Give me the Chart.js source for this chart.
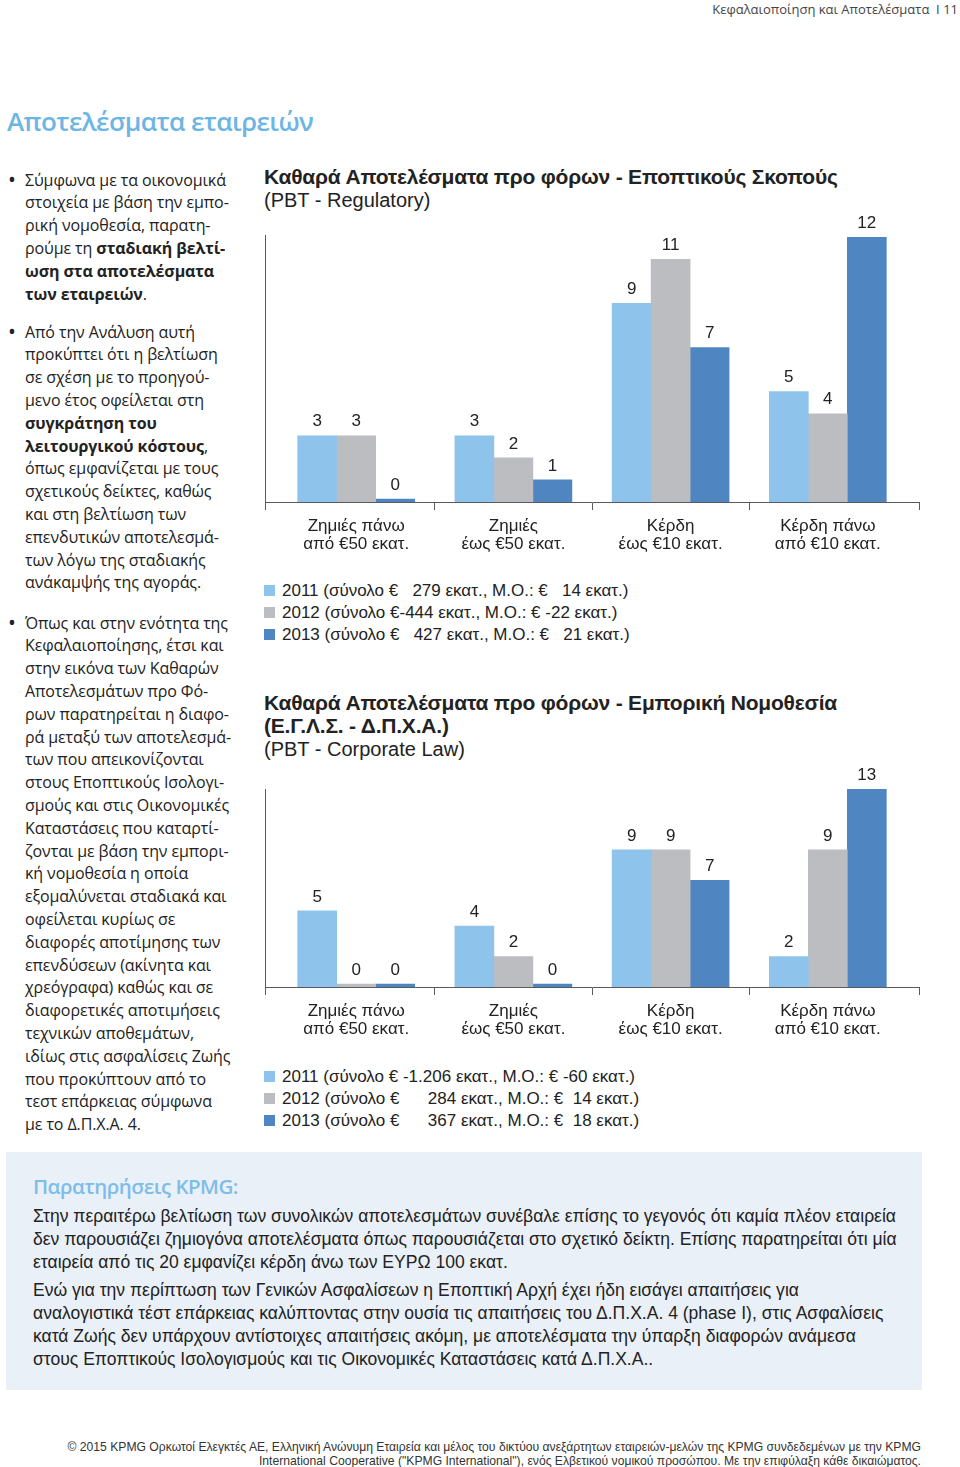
<!DOCTYPE html>
<html lang="el">
<head>
<meta charset="utf-8">
<script src="https://cdn.jsdelivr.net/npm/chart.js@4.4.1/dist/chart.umd.min.js"></script>
<style>
  html, body { margin:0; padding:0; background:#fff; }
  body { width:960px; height:1467px; position:relative; overflow:hidden; color:#222; }
  .abs { position:absolute; white-space:nowrap; }
  .hdr { top:1px; right:2px; font:13px/16px "Open Sans", sans-serif; color:#444; }
  .maintitle { top:104px; left:7px; font:600 26px/34px "Open Sans", sans-serif; color:#6cb5e4; letter-spacing:-0.6px; }
  .col { left:0; width:250px; font:16px/22.8px "Open Sans", sans-serif; color:#222; letter-spacing:-0.1px; }
  .col p { position:absolute; left:25px; margin:0; }
  .col p::before { content:"\2022"; position:absolute; left:-17px; top:-1px; font-size:21px; }
  .ctitle { left:264px; font:bold 21px/23px "Liberation Sans", Arial, sans-serif; color:#222; letter-spacing:-0.2px; }
  .ctitle span { font-weight:normal; font-size:20px; letter-spacing:0; }
  .legend { left:264px; font:17px/22px "Liberation Sans", Arial, sans-serif; color:#222; }
  .legend div { white-space:pre; position:relative; padding-left:18px; }
  .legend i { position:absolute; left:0; top:5px; width:11px; height:11px; }
  canvas { position:absolute; left:250px; }
  .box { left:6px; top:1152px; width:916px; height:238px; background:#eaf0f8; }
  .box h3 { position:absolute; left:27px; top:22px; margin:0; font:600 20.5px/24px "Open Sans", sans-serif; color:#7dbde8; letter-spacing:-0.5px; }
  .box p { position:absolute; left:27px; margin:0; font:17.55px/23px "Liberation Sans", Arial, sans-serif; color:#222; white-space:nowrap; }
  .foot { top:1440px; right:39px; text-align:right; font:12.15px/14px "Liberation Sans", Arial, sans-serif; color:#333; }
</style>
</head>
<body>
<div class="abs hdr">Κεφαλαιοποίηση και Αποτελέσματα&nbsp; I 11</div>
<div class="abs maintitle">Αποτελέσματα εταιρειών</div>

<div class="abs col" style="top:0">
  <p style="top:168.6px">Σύμφωνα με τα οικονομικά<br>στοιχεία με βάση την εμπο-<br>ρική νομοθεσία, παρατη-<br>ρούμε τη <b>σταδιακή βελτί-</b><br><b>ωση στα αποτελέσματα</b><br><b>των εταιρειών</b>.</p>
  <p style="top:320.6px">Από την Ανάλυση αυτή<br>προκύπτει ότι η βελτίωση<br>σε σχέση με το προηγού-<br>μενο έτος οφείλεται στη<br><b>συγκράτηση του</b><br><b>λειτουργικού κόστους</b>,<br>όπως εμφανίζεται με τους<br>σχετικούς δείκτες, καθώς<br>και στη βελτίωση των<br>επενδυτικών αποτελεσμά-<br>των λόγω της σταδιακής<br>ανάκαμψής της αγοράς.</p>
  <p style="top:611.6px">Όπως και στην ενότητα της<br>Κεφαλαιοποίησης, έτσι και<br>στην εικόνα των Καθαρών<br>Αποτελεσμάτων προ Φό-<br>ρων παρατηρείται η διαφο-<br>ρά μεταξύ των αποτελεσμά-<br>των που απεικονίζονται<br>στους Εποπτικούς Ισολογι-<br>σμούς και στις Οικονομικές<br>Καταστάσεις που καταρτί-<br>ζονται με βάση την εμπορι-<br>κή νομοθεσία η οποία<br>εξομαλύνεται σταδιακά και<br>οφείλεται κυρίως σε<br>διαφορές αποτίμησης των<br>επενδύσεων (ακίνητα και<br>χρεόγραφα) καθώς και σε<br>διαφορετικές αποτιμήσεις<br>τεχνικών αποθεμάτων,<br>ιδίως στις ασφαλίσεις Ζωής<br>που προκύπτουν από το<br>τεστ επάρκειας σύμφωνα<br>με το Δ.Π.Χ.Α. 4.</p>
</div>

<div class="abs ctitle" style="top:164.5px">Καθαρά Αποτελέσματα προ φόρων - Εποπτικούς Σκοπούς<br><span>(PBT - Regulatory)</span></div>
<canvas id="c1" width="690" height="362" style="top:200px"></canvas>
<div class="abs legend" id="lg1" style="top:580px"></div>

<div class="abs ctitle" style="top:690.5px">Καθαρά Αποτελέσματα προ φόρων - Εμπορική Νομοθεσία<br>(Ε.Γ.Λ.Σ. - Δ.Π.Χ.Α.)<br><span>(PBT - Corporate Law)</span></div>
<canvas id="c2" width="690" height="307" style="top:740px"></canvas>
<div class="abs legend" id="lg2" style="top:1066px"></div>

<div class="abs box">
  <h3>Παρατηρήσεις KPMG:</h3>
  <p style="top:52.5px">Στην περαιτέρω βελτίωση των συνολικών αποτελεσμάτων συνέβαλε επίσης το γεγονός ότι καμία πλέον εταιρεία<br>δεν παρουσιάζει ζημιογόνα αποτελέσματα όπως παρουσιάζεται στο σχετικό δείκτη. Επίσης παρατηρείται ότι μία<br>εταιρεία από τις 20 εμφανίζει κέρδη άνω των ΕΥΡΩ 100 εκατ.</p>
  <p style="top:126.5px">Ενώ για την περίπτωση των Γενικών Ασφαλίσεων η Εποπτική Αρχή έχει ήδη εισάγει απαιτήσεις για<br>αναλογιστικά τέστ επάρκειας καλύπτοντας στην ουσία τις απαιτήσεις του Δ.Π.Χ.Α. 4 (phase I), στις Ασφαλίσεις<br>κατά Ζωής δεν υπάρχουν αντίστοιχες απαιτήσεις ακόμη, με αποτελέσματα την ύπαρξη διαφορών ανάμεσα<br>στους Εποπτικούς Ισολογισμούς και τις Οικονομικές Καταστάσεις κατά Δ.Π.Χ.Α..</p>
</div>

<div class="abs foot">© 2015 KPMG Ορκωτοί Ελεγκτές ΑΕ, Ελληνική Ανώνυμη Εταιρεία και μέλος του δικτύου ανεξάρτητων εταιρειών-μελών της KPMG συνδεδεμένων με την KPMG<br>International Cooperative ("KPMG International"), ενός Ελβετικού νομικού προσώπου. Με την επιφύλαξη κάθε δικαιώματος.</div>

<script>
// ---------- DATA ----------
const categories = [
  ['Ζημιές πάνω', 'από €50 εκατ.'],
  ['Ζημιές', 'έως €50 εκατ.'],
  ['Κέρδη', 'έως €10 εκατ.'],
  ['Κέρδη πάνω', 'από €10 εκατ.']
];
const years = ['2011', '2012', '2013'];

// Chart 1: PBT - Regulatory (number of companies)
const reg2011 = [3, 3, 9, 5];
const reg2012 = [3, 2, 11, 4];
const reg2013 = [0, 1, 7, 12];
const regLegend = [
  '2011 (σύνολο €   279 εκατ., Μ.Ο.: €   14 εκατ.)',
  '2012 (σύνολο €-444 εκατ., Μ.Ο.: € -22 εκατ.)',
  '2013 (σύνολο €   427 εκατ., Μ.Ο.: €   21 εκατ.)'
];

// Chart 2: PBT - Corporate Law
const corp2011 = [5, 4, 9, 2];
const corp2012 = [0, 2, 9, 9];
const corp2013 = [0, 0, 7, 13];
const corpLegend = [
  '2011 (σύνολο € -1.206 εκατ., Μ.Ο.: € -60 εκατ.)',
  '2012 (σύνολο €      284 εκατ., Μ.Ο.: €  14 εκατ.)',
  '2013 (σύνολο €      367 εκατ., Μ.Ο.: €  18 εκατ.)'
];

// ---------- STYLE ----------
const colors = ['#8ec4eb', '#bcbdc0', '#4f85c0'];
const axisColor = '#5a5a5a';
const txtFont = '"Liberation Sans", Arial, sans-serif';

const valueLabels = {
  id: 'valueLabels',
  afterDatasetsDraw(chart) {
    const ctx = chart.ctx;
    ctx.save();
    ctx.font = '17px ' + txtFont;
    ctx.fillStyle = '#222';
    ctx.textAlign = 'center';
    ctx.textBaseline = 'middle';
    chart.data.datasets.forEach((ds, di) => {
      const meta = chart.getDatasetMeta(di);
      meta.data.forEach((el, i) => {
        ctx.fillText(String(ds.data[i]), el.x, el.y - 14);
      });
    });
    ctx.restore();
  }
};

function makeChart(id, series, yMax, padTop) {
  const xMin = -0.58, xMax = 3.58;
  const boundaryTicks = [xMin, 0.5, 1.5, 2.5, xMax];
  const tickVals = [xMin, 0, 0.5, 1, 1.5, 2, 2.5, 3, xMax];
  return new Chart(document.getElementById(id), {
    type: 'bar',
    data: {
      labels: categories.map((_, i) => i),
      datasets: series.map((vals, k) => ({
        label: years[k],
        data: vals,
        backgroundColor: colors[k],
        borderWidth: 0,
        barThickness: 39,
        minBarLength: 3
      }))
    },
    options: {
      responsive: false,
      animation: false,
      devicePixelRatio: 1,
      layout: { padding: { left: 15, right: 21, top: padTop, bottom: 0 } },
      plugins: { legend: { display: false }, tooltip: { enabled: false } },
      scales: {
        x: {
          type: 'linear',
          offset: false,
          min: xMin, max: xMax,
          afterBuildTicks: s => { s.ticks = tickVals.map(v => ({ value: v })); },
          afterFit: s => { s.height = 60; },
          grid: {
            display: true, offset: false, drawOnChartArea: false, drawTicks: true, tickLength: 8,
            color: c => (c.tick && boundaryTicks.includes(c.tick.value)) ? axisColor : 'rgba(0,0,0,0)',
            lineWidth: 1
          },
          border: { display: true, color: axisColor, width: 1 },
          ticks: {
            autoSkip: false, maxRotation: 0, minRotation: 0, padding: 7,
            color: '#222',
            font: { family: txtFont, size: 17, lineHeight: 1.08 },
            callback: v => Number.isInteger(v) ? categories[v] : ''
          }
        },
        y: {
          min: 0, max: yMax,
          afterFit: s => { s.width = 0; },
          ticks: { display: false },
          grid: { display: false },
          border: { display: true, color: axisColor, width: 1 }
        }
      }
    },
    plugins: [valueLabels]
  });
}

function makeLegend(id, texts) {
  const el = document.getElementById(id);
  texts.forEach((t, k) => {
    const d = document.createElement('div');
    const sq = document.createElement('i');
    sq.style.background = colors[k];
    d.appendChild(sq);
    d.appendChild(document.createTextNode(t));
    el.appendChild(d);
  });
}

makeChart('c1', [reg2011, reg2012, reg2013], 12.1, 35);
makeChart('c2', [corp2011, corp2012, corp2013], 13.0, 49);
makeLegend('lg1', regLegend);
makeLegend('lg2', corpLegend);
</script>
</body>
</html>
